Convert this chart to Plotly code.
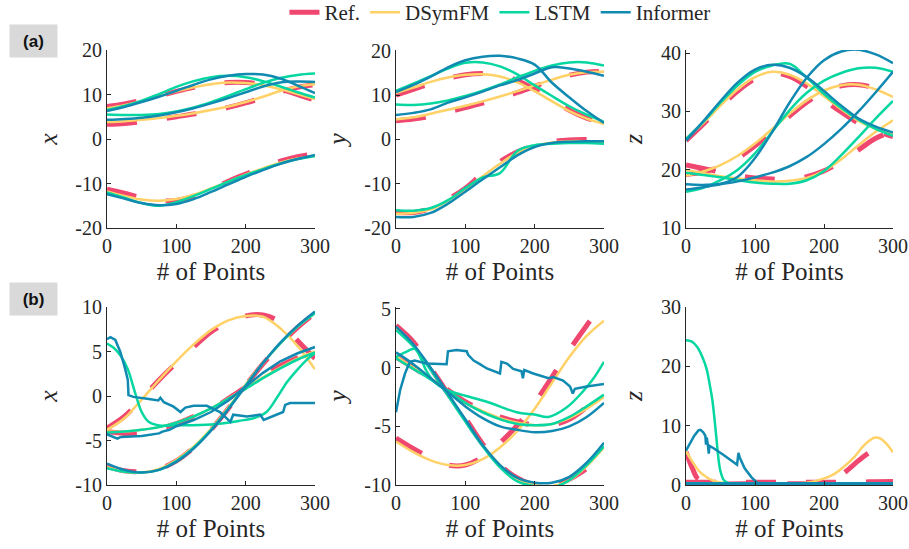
import plotly.graph_objects as go

# ---------------- data ----------------
X_GRID = [0, 25, 50, 75, 100, 125, 150, 175, 200, 225, 250, 275, 300]
X_TICKS = [0, 100, 200, 300]

# (a) x
AX_REF = [[7.3, 7.9, 8.7, 9.7, 10.7, 11.6, 12.3, 12.7, 12.7, 12.2, 11.2, 10.0, 8.7],
          [3.3, 3.5, 3.9, 4.4, 5.0, 5.6, 6.3, 7.1, 8.1, 9.3, 10.6, 11.6, 12.2],
          [-11.3, -12.2, -13.2, -13.9, -13.8, -12.9, -11.4, -9.5, -7.9, -6.4, -5.0, -4.0, -3.3]]
AX_DSYM = [[6.9, 7.6, 8.5, 9.6, 10.7, 11.6, 12.3, 12.7, 12.6, 12.1, 11.2, 10.1, 9.0],
           [3.8, 4.0, 4.3, 4.7, 5.2, 5.8, 6.5, 7.3, 8.3, 9.5, 10.8, 11.8, 12.3],
           [-11.8, -12.8, -13.6, -13.9, -13.5, -12.5, -11.1, -9.6, -8.0, -6.6, -5.3, -4.4, -3.8]]
AX_LSTM = [[6.5, 7.4, 8.6, 10.1, 11.7, 13.0, 13.9, 14.2, 13.9, 13.0, 11.8, 10.5, 9.3],
           [5.5, 5.4, 5.4, 5.6, 6.2, 7.1, 8.3, 9.7, 11.2, 12.6, 13.7, 14.4, 14.7],
           [-12.0, -13.2, -14.4, -15.0, -14.2, -12.8, -11.2, -9.6, -8.1, -6.8, -5.5, -4.5, -3.8]]
AX_INF = [[6.3, 7.2, 8.3, 9.5, 10.8, 12.2, 13.4, 14.2, 14.6, 14.5, 13.6, 12.0, 10.3],
          [4.3, 4.5, 4.8, 5.3, 6.0, 6.9, 8.0, 9.2, 10.5, 11.8, 12.7, 12.9, 12.8],
          [-12.4, -13.4, -14.4, -14.9, -14.6, -13.5, -11.9, -10.2, -8.5, -7.0, -5.6, -4.5, -3.6]]

# (a) y
AY_REF = [[10.0, 11.3, 12.6, 13.8, 14.6, 14.9, 14.5, 13.3, 11.3, 8.9, 6.6, 4.8, 3.6],
          [4.2, 4.6, 5.2, 6.2, 7.2, 8.2, 9.3, 10.6, 12.0, 13.4, 14.5, 15.2, 15.4],
          [-16.5, -16.5, -15.6, -13.5, -11.0, -7.7, -5.0, -2.8, -1.4, -0.5, -0.1, 0.0, 0.0]]
AY_DSYM = [[10.5, 11.7, 13.0, 14.0, 14.6, 14.7, 14.2, 12.9, 10.9, 8.6, 6.4, 4.7, 3.5],
           [4.5, 5.0, 5.8, 6.7, 7.6, 8.6, 9.7, 10.9, 12.2, 13.5, 14.6, 15.2, 15.3],
           [-16.8, -16.6, -15.8, -13.8, -11.2, -8.3, -5.5, -3.0, -1.4, -0.7, -0.4, -0.4, -0.5]]
AY_LSTM = [[11.0, 12.6, 14.3, 16.0, 17.3, 17.4, 16.5, 14.7, 12.2, 9.8, 7.5, 5.6, 4.0],
           [7.9, 7.8, 8.1, 8.8, 9.8, 11.0, 12.4, 14.0, 15.5, 16.7, 17.4, 17.4, 16.7],
           [-16.0, -16.1, -15.5, -13.7, -11.0, -8.6, -7.6, -2.6, -1.3, -1.0, -0.8, -0.8, -1.0]]
AY_INF = [[10.7, 12.3, 14.2, 16.3, 17.9, 18.7, 18.9, 18.3, 16.9, 12.8, 9.5, 6.4, 3.7],
          [5.5, 6.0, 6.8, 8.3, 9.5, 10.8, 12.2, 13.4, 14.9, 16.3, 16.0, 15.3, 14.4],
          [-17.5, -17.5, -16.6, -14.5, -11.8, -9.0, -6.3, -3.6, -1.7, -0.8, -0.5, -0.4, -0.4]]

# (a) z
AZ_REF = [[25.0, 27.8, 30.8, 33.5, 35.6, 36.6, 36.0, 34.3, 32.0, 29.9, 28.0, 26.7, 25.7],
          [19.2, 19.6, 20.5, 22.0, 24.1, 26.6, 29.2, 31.6, 33.4, 34.4, 34.6, 34.0, 33.0],
          [20.8, 20.2, 19.6, 19.0, 18.6, 18.4, 18.4, 18.8, 19.8, 21.4, 23.4, 25.4, 26.6]]
AZ_DSYM = [[25.3, 28.0, 31.0, 33.8, 35.9, 36.8, 36.3, 34.8, 32.6, 30.4, 28.4, 27.0, 26.0],
           [19.0, 19.7, 20.8, 22.4, 24.5, 27.0, 29.6, 31.9, 33.6, 34.5, 34.6, 33.8, 32.5],
           [20.0, 19.4, 18.9, 18.5, 18.2, 18.0, 18.1, 18.6, 19.8, 21.8, 24.2, 26.5, 28.5]]
AZ_LSTM = [[25.3, 28.2, 31.5, 34.5, 36.8, 37.9, 38.2, 35.8, 33.0, 30.6, 28.6, 27.0, 25.8],
           [16.2, 16.9, 18.2, 20.0, 22.8, 26.5, 30.2, 33.2, 35.3, 36.6, 37.4, 37.5, 36.8],
           [19.5, 19.1, 18.7, 18.2, 17.8, 17.6, 17.6, 18.2, 19.8, 22.5, 25.6, 28.8, 31.8]]
AZ_INF = [[25.0, 28.3, 31.8, 35.0, 37.2, 38.0, 37.5, 35.9, 33.5, 31.0, 28.8, 27.4, 26.4],
          [17.5, 17.4, 17.6, 18.8, 22.0, 26.5, 31.5, 35.8, 38.8, 40.3, 40.6, 39.8, 38.3],
          [16.6, 17.0, 17.5, 18.0, 18.7, 19.5, 20.6, 22.2, 24.4, 27.0, 30.0, 33.3, 36.8]]

# (b) x
BX_REF = [[-3.6, -2.3, -0.3, 1.8, 3.7, 5.5, 7.2, 8.3, 9.0, 9.1, 8.3, 6.2, 4.2],
          [-4.0, -4.2, -4.2, -3.7, -3.1, -2.3, -1.5, -0.3, 1.0, 2.3, 3.4, 4.3, 5.0],
          [-7.9, -8.4, -8.5, -8.2, -7.3, -5.8, -3.8, -1.4, 1.2, 3.6, 5.8, 7.7, 9.3]]
BX_DSYM = [[-3.8, -2.5, -0.4, 1.8, 3.9, 5.8, 7.4, 8.5, 9.0, 8.9, 7.6, 5.6, 3.0],
           [-4.0, -4.0, -3.8, -3.5, -3.0, -2.3, -1.4, -0.3, 0.9, 2.1, 3.2, 4.2, 5.0],
           [-8.0, -8.5, -8.6, -8.2, -7.2, -5.7, -3.7, -1.3, 1.3, 3.7, 5.9, 7.8, 9.3]]
BX_LSTM = [[-4.1, -4.0, -3.8, -3.5, -3.0, -2.3, -1.4, -0.3, 0.8, 2.0, 3.1, 4.1, 4.9],
           [-8.1, -8.5, -8.6, -8.3, -7.3, -5.8, -3.8, -1.4, 1.2, 3.7, 5.9, 7.8, 9.3]]
BX_LSTM_A_X = [0, 10, 20, 30, 40, 50, 60, 75, 100, 150, 190, 215, 230, 245, 260, 275, 290, 300]
BX_LSTM_A_Y = [5.9, 5.4, 4.5, 3.0, 0.5, -1.8, -2.9, -3.3, -3.3, -3.2, -2.8, -2.4, -1.8, -0.2, 1.6, 3.0, 4.2, 4.8]
BX_INF = [[-7.6, -8.3, -8.6, -8.3, -7.4, -5.9, -3.9, -1.5, 1.1, 3.7, 6.0, 7.9, 9.5]]
BX_INF_A_X = [0, 5, 12, 19, 26, 30, 31, 38, 58, 74, 77, 82, 96, 106, 113, 125, 144, 163, 178, 182,
              202, 221, 226, 245, 254, 257, 264, 300]
BX_INF_A_Y = [6.4, 6.6, 6.3, 5.0, 3.1, 1.8, 0.1, -0.1, -0.3, -0.5, -0.2, -0.7, -1.2, -1.8, -1.3, -1.1,
              -1.1, -1.8, -2.9, -2.1, -2.3, -2.1, -2.7, -2.1, -1.8, -1.0, -0.8, -0.8]
BX_INF_B_X = [0, 10, 15, 20, 50, 75, 80, 90, 100, 125, 150, 175, 200, 225, 250, 275, 300]
BX_INF_B_Y = [-4.3, -4.6, -4.8, -4.6, -4.5, -4.2, -4.0, -3.8, -3.4, -2.7, -1.8, -0.5, 1.0, 2.6, 3.9, 4.8, 5.5]

# (b) y
BY_REF = [[-6.0, -6.9, -7.7, -8.3, -8.3, -7.6, -6.4, -4.9, -3.0, -0.8, 1.5, 3.6, 5.6],
          [0.9, 0.0, -0.9, -1.9, -2.9, -3.6, -4.2, -4.6, -4.9, -4.9, -4.4, -3.4, -2.4],
          [3.6, 2.2, 0.0, -2.2, -4.3, -6.5, -8.3, -9.4, -10.0, -10.0, -9.5, -8.6, -7.5]]
BY_DSYM = [[-6.3, -7.2, -7.9, -8.3, -8.3, -7.8, -6.8, -5.4, -3.5, -1.3, 0.9, 2.7, 4.0],
           [1.0, 0.0, -0.9, -2.0, -3.0, -3.7, -4.3, -4.7, -4.9, -4.8, -4.3, -3.5, -2.5],
           [3.3, 1.9, -0.1, -2.3, -4.5, -6.6, -8.3, -9.5, -10.0, -10.1, -9.6, -8.4, -6.8]]
BY_LSTM = [[0.8, -0.1, -1.0, -2.0, -3.0, -3.8, -4.4, -4.8, -4.9, -4.8, -4.2, -3.3, -2.3],
           [3.2, 1.8, -0.2, -2.4, -4.6, -6.7, -8.5, -9.7, -10.1, -10.2, -9.6, -8.3, -6.7]]
BY_LSTM_A_X = [0, 13, 27, 35, 44, 55, 73, 100, 131, 174, 200, 220, 246, 270, 285, 300]
BY_LSTM_A_Y = [0.9, 1.3, 1.6, 0.9, -0.3, -1.2, -1.9, -2.4, -2.9, -3.8, -4.0, -4.2, -3.4, -2.0, -0.9, 0.5]
BY_INF = [[1.3, 0.3, -0.9, -2.1, -3.3, -4.3, -5.0, -5.3, -5.5, -5.4, -5.0, -4.2, -3.0],
          [3.5, 2.0, 0.0, -2.2, -4.4, -6.6, -8.3, -9.4, -9.8, -9.8, -9.3, -8.1, -6.4]]
BY_INF_A_X = [0, 6, 13, 20, 27, 35, 44, 73, 75, 87, 102, 104, 112, 121, 131, 150, 152, 160, 169, 181,
              183, 185, 198, 220, 227, 241, 251, 255, 258, 275, 300]
BY_INF_A_Y = [-3.8, -1.9, -0.5, 0.5, 0.6, 0.5, 0.35, 0.3, 1.4, 1.5, 1.4, 1.1, 0.6, 0.3, -0.07, -0.5,
              0.5, 0.35, -0.1, -0.3, -0.9, -0.2, -0.5, -0.9, -0.8, -1.1, -1.6, -2.2, -1.8, -1.6, -1.4]

# (b) z
BZ_REF = [[0.3, 0.3, 0.3, 0.3, 0.3, 0.3, 0.3, 0.3, 0.3, 0.3, 0.3, 0.3, 0.3],
          [0.45, 0.45, 0.45, 0.45, 0.45, 0.45, 0.45, 0.45, 0.45, 0.45, 0.5, 0.55, 0.6]]
BZ_REF_A_X = [0, 5, 10, 16, 25, 35, 50, 100, 150, 190, 205, 220, 235, 250, 265, 280, 290, 300]
BZ_REF_A_Y = [5.6, 4.0, 2.6, 1.2, 0.6, 0.3, 0.2, 0.2, 0.2, 0.3, 0.6, 1.3, 2.6, 4.1, 5.4, 6.2, 6.2, 5.8]
BZ_DSYM = [[0.2, 0.2, 0.2, 0.2, 0.2, 0.2, 0.2, 0.2, 0.2, 0.2, 0.2, 0.2, 0.2],
           [0.15, 0.15, 0.15, 0.15, 0.15, 0.15, 0.15, 0.15, 0.15, 0.15, 0.15, 0.15, 0.15]]
BZ_DSYM_A_X = [0, 10, 20, 30, 40, 55, 80, 150, 175, 195, 214, 230, 243, 255, 265, 274, 282, 290, 300]
BZ_DSYM_A_Y = [5.7, 3.8, 2.2, 1.3, 0.7, 0.35, 0.2, 0.2, 0.4, 0.9, 1.8, 3.2, 4.6, 6.3, 7.4, 8.0, 7.8, 7.0, 5.5]
BZ_LSTM = [[0.2, 0.2, 0.2, 0.2, 0.2, 0.2, 0.2, 0.2, 0.2, 0.2, 0.2, 0.2, 0.2],
           [0.25, 0.25, 0.25, 0.25, 0.25, 0.25, 0.25, 0.25, 0.25, 0.25, 0.25, 0.25, 0.25]]
BZ_LSTM_A_X = [0, 8, 16, 24, 30, 35, 38, 41, 44, 47, 50, 55, 62, 80, 300]
BZ_LSTM_A_Y = [24.4, 24.2, 23.3, 21.5, 19.5, 16.5, 14.5, 11.5, 8.0, 4.5, 2.3, 0.8, 0.3, 0.2, 0.2]
BZ_INF = [[0.25, 0.25, 0.25, 0.25, 0.25, 0.25, 0.25, 0.25, 0.25, 0.25, 0.25, 0.25, 0.25],
          [0.2, 0.2, 0.2, 0.2, 0.2, 0.2, 0.2, 0.2, 0.2, 0.2, 0.2, 0.2, 0.2]]
BZ_INF_A_X = [0, 6, 12, 18, 21, 25, 28, 29, 30, 32, 33, 34, 40, 55, 70, 74, 76, 78, 85, 95, 103, 110, 150, 300]
BZ_INF_A_Y = [5.8, 7.0, 8.3, 9.2, 9.3, 8.9, 8.3, 6.8, 8.0, 6.5, 5.3, 6.6, 6.2, 5.0, 3.8, 3.4, 5.4, 4.6,
              2.8, 1.3, 0.4, 0.3, 0.25, 0.25]

# y-axis ticks per panel
AX_YTICKS = [-20, -10, 0, 10, 20]
AY_YTICKS = [-20, -10, 0, 10, 20]
AZ_YTICKS = [10, 20, 30, 40]
BX_YTICKS = [-10, -5, 0, 5, 10]
BY_YTICKS = [-10, -5, 0, 5]
BZ_YTICKS = [0, 10, 20, 30]

METHODS = ["Ref.", "DSymFM", "LSTM", "Informer"]
Y_LABELS = ["x", "y", "z", "x", "y", "z"]
X_LABEL = "# of Points"
ROW_TAGS = ["(a)", "(b)"]

# ---------------- styling ----------------
COLORS = {"Ref.": "#EF476F", "DSymFM": "#FFD166", "LSTM": "#06D6A0", "Informer": "#118AB2"}
WIDTHS = {"Ref.": 5, "DSymFM": 2.5, "LSTM": 2.5, "Informer": 2.5}
DASHES = {"Ref.": "30px,30px", "DSymFM": "solid", "LSTM": "solid", "Informer": "solid"}
FONT = "Liberation Serif, Times New Roman, DejaVu Serif, serif"
AXC = "#262626"


def on_grid(rows):
    return [(X_GRID, r, "spline") for r in rows]


PANELS = [
    {"Ref.": on_grid(AX_REF), "DSymFM": on_grid(AX_DSYM), "LSTM": on_grid(AX_LSTM), "Informer": on_grid(AX_INF)},
    {"Ref.": on_grid(AY_REF), "DSymFM": on_grid(AY_DSYM), "LSTM": on_grid(AY_LSTM), "Informer": on_grid(AY_INF)},
    {"Ref.": on_grid(AZ_REF), "DSymFM": on_grid(AZ_DSYM), "LSTM": on_grid(AZ_LSTM), "Informer": on_grid(AZ_INF)},
    {"Ref.": on_grid(BX_REF), "DSymFM": on_grid(BX_DSYM),
     "LSTM": [(BX_LSTM_A_X, BX_LSTM_A_Y, "spline")] + on_grid(BX_LSTM),
     "Informer": [(BX_INF_A_X, BX_INF_A_Y, "linear"), (BX_INF_B_X, BX_INF_B_Y, "linear")] + on_grid(BX_INF)},
    {"Ref.": on_grid(BY_REF), "DSymFM": on_grid(BY_DSYM),
     "LSTM": [(BY_LSTM_A_X, BY_LSTM_A_Y, "spline")] + on_grid(BY_LSTM),
     "Informer": [(BY_INF_A_X, BY_INF_A_Y, "linear")] + on_grid(BY_INF)},
    {"Ref.": [(BZ_REF_A_X, BZ_REF_A_Y, "spline")] + on_grid(BZ_REF),
     "DSymFM": [(BZ_DSYM_A_X, BZ_DSYM_A_Y, "spline")] + on_grid(BZ_DSYM),
     "LSTM": [(BZ_LSTM_A_X, BZ_LSTM_A_Y, "spline")] + on_grid(BZ_LSTM),
     "Informer": [(BZ_INF_A_X, BZ_INF_A_Y, "linear")] + on_grid(BZ_INF)},
]
Y_TICKS = [AX_YTICKS, AY_YTICKS, AZ_YTICKS, BX_YTICKS, BY_YTICKS, BZ_YTICKS]
Y_RANGES = [[-20, 20], [-20, 20.2], [10, 40.55], [-10, 10], [-10, 5.17], [0, 30]]

W, H = 909, 549
COL_PX = [(107, 315), (396, 604), (686, 893)]
ROW_PX = [(50, 228), (307, 485)]

fig = go.Figure()
shown = set()
for i, panel in enumerate(PANELS):
    n = i + 1
    xa = "x" if n == 1 else f"x{n}"
    ya = "y" if n == 1 else f"y{n}"
    for m in METHODS:
        for (xs, ys, shape) in panel[m]:
            fig.add_trace(go.Scatter(
                x=xs, y=ys, mode="lines", name=m, legendgroup=m,
                showlegend=m not in shown,
                line=dict(color=COLORS[m], width=WIDTHS[m], dash=DASHES[m], shape=shape),
                xaxis=xa, yaxis=ya, hoverinfo="skip"))
            shown.add(m)

layout = dict(
    width=W, height=H, margin=dict(l=0, r=0, t=0, b=0, autoexpand=False),
    paper_bgcolor="white", plot_bgcolor="white",
    font=dict(family=FONT, color=AXC),
    legend=dict(orientation="h", x=0.55, xanchor="center", y=1.0 + 8 / H, yanchor="top",
                font=dict(family=FONT, size=21, color=AXC), bgcolor="rgba(0,0,0,0)",
                tracegroupgap=0, itemwidth=30),
)
for i in range(6):
    n = i + 1
    r, c = divmod(i, 3)
    x0, x1 = COL_PX[c]
    y0, y1 = ROW_PX[r]
    xk = "xaxis" if n == 1 else f"xaxis{n}"
    yk = "yaxis" if n == 1 else f"yaxis{n}"
    ya = "y" if n == 1 else f"y{n}"
    xa = "x" if n == 1 else f"x{n}"
    layout[xk] = dict(
        domain=[x0 / W, x1 / W], range=[0, 300], anchor=ya, automargin=False,
        tickvals=X_TICKS, ticktext=[str(v) for v in X_TICKS],
        ticks="inside", ticklen=4, tickcolor=AXC, showline=True, linecolor=AXC, linewidth=1,
        showgrid=False, zeroline=False, tickfont=dict(family=FONT, size=20, color=AXC),
        title=dict(text=X_LABEL, font=dict(family=FONT, size=25, color=AXC), standoff=6),
    )
    layout[yk] = dict(
        domain=[1 - y1 / H, 1 - y0 / H], range=Y_RANGES[i], anchor=xa, automargin=False,
        tickvals=Y_TICKS[i], ticktext=[str(v) for v in Y_TICKS[i]],
        ticks="inside", ticklen=4, tickcolor=AXC, showline=True, linecolor=AXC, linewidth=1,
        showgrid=False, zeroline=False, tickfont=dict(family=FONT, size=20, color=AXC),
        title=dict(text=f"<i>{Y_LABELS[i]}</i>", font=dict(family=FONT, size=26, color=AXC), standoff=10),
    )
fig.update_layout(**layout)

TAG_CENTERS = [41, 299]
for tag, cy in zip(ROW_TAGS, TAG_CENTERS):
    fig.add_annotation(
        x=33 / W, y=1 - cy / H, xref="paper", yref="paper", xanchor="center", yanchor="middle",
        text=f"<b>{tag}</b>", showarrow=False, width=47, height=32, borderpad=0,
        bgcolor="#D9D9D9", font=dict(family="Liberation Sans, Arial, sans-serif", size=17, color="#111111"))

fig.write_html("out.html")
